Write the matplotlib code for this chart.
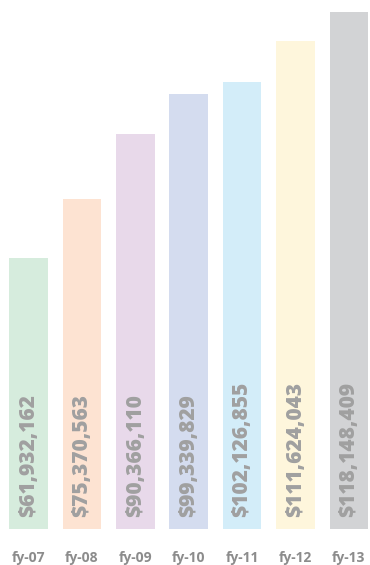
import matplotlib.pyplot as plt

years = ["fy-07", "fy-08", "fy-09", "fy-10", "fy-11", "fy-12", "fy-13"]
budget = [61932162, 75370563, 90366110, 99339829, 102126855, 111624043, 118148409]
colors = ["#d6ecdd", "#fde3d2", "#e8d9ea", "#d4dcef", "#d3edf9", "#fef6dc", "#d2d3d5"]

fig = plt.figure(figsize=(3.7, 5.65), dpi=100)
# axes placed so bars sit where they do in the original
ax = fig.add_axes([0, 36 / 565, 1, 517 / 565])

x = range(len(years))
ax.bar(x, budget, width=0.72, color=colors)
ax.set_xlim(-0.534, 6.395)
ax.set_ylim(0, max(budget))

# labels inside the bars, written upwards
for i, v in enumerate(budget):
    ax.annotate("${:,}".format(v), (i, 0), xytext=(0, 8.5), textcoords="offset points",
                rotation=90, ha="center", va="bottom", color="#a0a0a0",
                fontsize=15, fontweight="heavy", family="Open Sans")

ax.set_xticks(list(x))
ax.set_xticklabels(years, fontsize=10, fontweight="bold", color="#8c8c8c", family="Open Sans")
ax.tick_params(axis="x", length=0, pad=16)
ax.set_yticks([])
for s in ax.spines.values():
    s.set_visible(False)

fig.savefig("out.png", dpi=100)
